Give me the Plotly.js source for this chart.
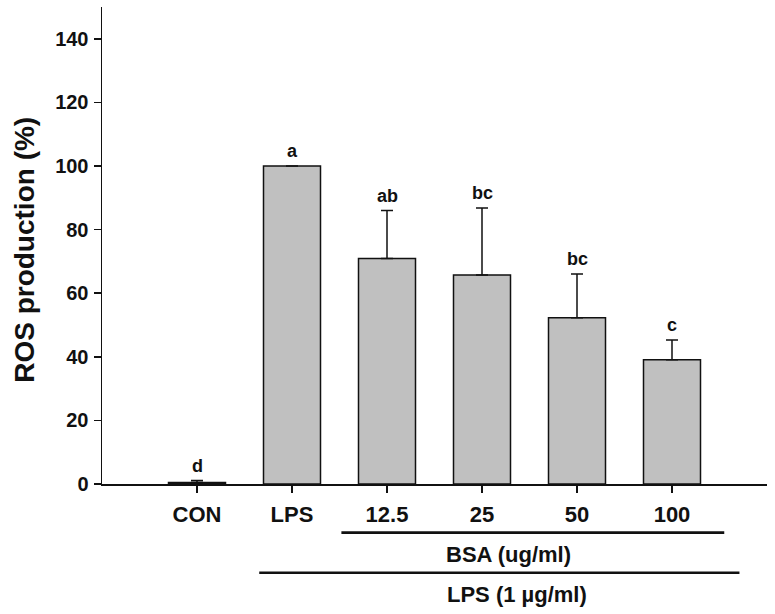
<!DOCTYPE html>
<html>
<head>
<meta charset="utf-8">
<script src="https://cdn.plot.ly/plotly-3.0.1.min.js"></script>
<style>html,body{margin:0;padding:0;background:#fff;}#chart{width:775px;height:614px;}</style>
</head>
<body>
<div id="chart"></div>
<script>
// ---- data ----
var categories = ["CON", "LPS", "12.5", "25", "50", "100"];
var rosValues = [0.5, 100, 70.9, 65.7, 52.3, 39.1];
var rosErrors = [0.6, 0, 15.1, 21.1, 13.7, 6.2];
var sigLetters = ["d", "a", "ab", "bc", "bc", "c"];
var yTickValues = [0, 20, 40, 60, 80, 100, 120, 140];
var groupLabels = ["BSA (ug/ml)", "LPS (1 \u00b5g/ml)"];
var yAxisTitle = "ROS production (%)";

// ---- build ----
var idx = categories.map(function (c, i) { return i; });
var FONT = "Arial, 'Liberation Sans', sans-serif";
var INK = "#111";

var barTrace = {
  type: "bar",
  x: idx,
  y: rosValues,
  width: 0.6,
  marker: { color: "#c0c0c0", line: { color: INK, width: 1.5 } },
  error_y: {
    type: "data", symmetric: false,
    array: rosErrors,
    arrayminus: rosErrors.map(function () { return 0; }),
    color: INK, thickness: 1.5, width: 6
  },
  hoverinfo: "skip"
};

var annotations = sigLetters.map(function (t, i) {
  return {
    x: idx[i], y: rosValues[i] + rosErrors[i], xref: "x", yref: "y",
    text: t, showarrow: false, yanchor: "bottom", yshift: 3,
    font: { family: FONT, size: 18, color: INK, weight: "bold" }
  };
});
annotations.push({
  x: 3.28, y: -0.148, xref: "x", yref: "paper", text: groupLabels[0],
  showarrow: false, yanchor: "middle",
  font: { family: FONT, size: 22, color: INK, weight: "bold" }
});
annotations.push({
  x: 3.37, y: -0.232, xref: "x", yref: "paper", text: groupLabels[1],
  showarrow: false, yanchor: "middle",
  font: { family: FONT, size: 22, color: INK, weight: "bold" }
});
annotations.push({
  x: -0.1165, y: 0.49, xref: "paper", yref: "paper", text: yAxisTitle,
  showarrow: false, textangle: -90, xanchor: "center", yanchor: "middle",
  font: { family: FONT, size: 28, color: INK, weight: "bold" }
});

var shapes = [
  { type: "line", xref: "x", yref: "paper", x0: 1.52, x1: 5.55, y0: -0.102, y1: -0.102,
    line: { color: INK, width: 2.6 } },
  { type: "line", xref: "x", yref: "paper", x0: 0.655, x1: 5.71, y0: -0.186, y1: -0.186,
    line: { color: INK, width: 2.6 } }
];

var layout = {
  width: 775, height: 614,
  margin: { l: 102, r: 8, t: 7, b: 130, pad: 0 },
  paper_bgcolor: "#fff", plot_bgcolor: "#fff",
  showlegend: false,
  font: { family: FONT, color: INK },
  xaxis: {
    range: [-1, 6],
    tickmode: "array", tickvals: idx, ticktext: categories,
    ticks: "outside", ticklen: 7, tickwidth: 1.5, tickcolor: INK,
    ticklabelstandoff: 3,
    showline: true, linecolor: INK, linewidth: 1.5,
    showgrid: false, zeroline: false,
    tickfont: { family: FONT, size: 22, color: INK, weight: "bold" }
  },
  yaxis: {
    range: [0, 150],
    tickmode: "array", tickvals: yTickValues,
    ticks: "outside", ticklen: 7, tickwidth: 1.5, tickcolor: INK,
    ticklabelstandoff: 1,
    showline: true, linecolor: INK, linewidth: 1.5,
    showgrid: false, zeroline: false,
    tickfont: { family: FONT, size: 20, color: INK, weight: "bold" }
  },
  annotations: annotations,
  shapes: shapes
};

Plotly.newPlot("chart", [barTrace], layout, { displayModeBar: false, staticPlot: true });
</script>
</body>
</html>
